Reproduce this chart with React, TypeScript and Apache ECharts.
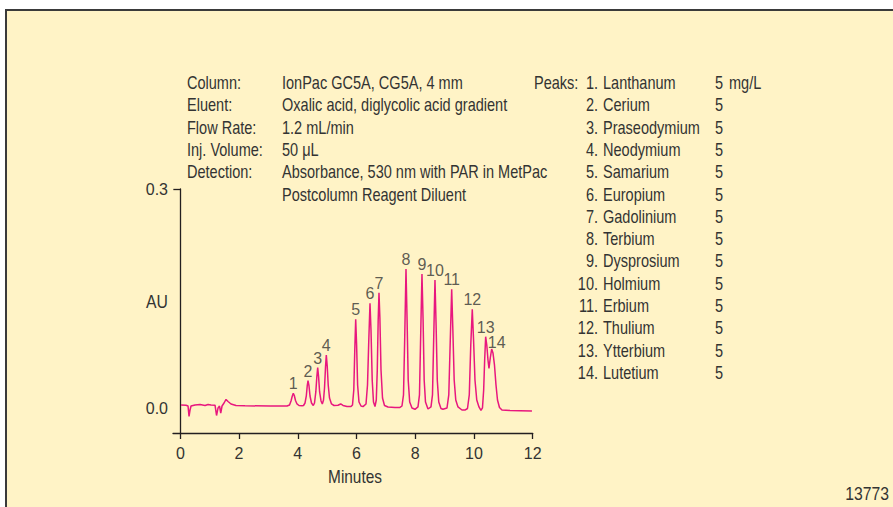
import React, { useEffect, useRef } from "react";
import * as echarts from "echarts";

// Chromatogram trace (minutes, AU)
const traceMinutes = [
  0.024, 0.194, 0.262, 0.296, 0.33, 0.364, 0.501, 0.671, 0.841, 0.943, 1.045, 1.181, 1.233, 1.284, 1.335, 1.376, 1.42, 1.488,
  1.556, 1.624, 1.726, 1.896, 2.203, 3.054, 3.633,
  3.718, 3.769, 3.813, 3.847, 3.881, 3.922, 3.973, 4.041, 4.144,
  4.195, 4.246, 4.29, 4.321, 4.348, 4.382, 4.416, 4.467, 4.528,
  4.569, 4.614, 4.648, 4.678, 4.709, 4.743, 4.791, 4.835,
  4.876, 4.91, 4.944, 4.971, 5.002, 5.036, 5.08, 5.148, 5.233, 5.369, 5.461, 5.54, 5.676, 5.812,
  5.863, 5.907, 5.941, 5.972, 6.003, 6.037, 6.084, 6.153, 6.221,
  6.323, 6.374, 6.418, 6.459, 6.493, 6.534, 6.578, 6.629,
  6.673, 6.707, 6.738, 6.765, 6.796, 6.834, 6.885, 6.953, 7.072, 7.31, 7.48,
  7.548, 7.6, 7.64, 7.685, 7.722, 7.76, 7.811, 7.889, 7.991,
  8.093, 8.144, 8.189, 8.229, 8.267, 8.304, 8.349, 8.434,
  8.536, 8.587, 8.631, 8.672, 8.71, 8.75, 8.801, 8.876, 8.944,
  9.081, 9.142, 9.193, 9.241, 9.281, 9.326, 9.38, 9.455, 9.591, 9.693,
  9.779, 9.84, 9.891, 9.942, 9.986, 10.034, 10.095, 10.17, 10.238,
  10.289, 10.33, 10.364, 10.398, 10.436, 10.477, 10.511,
  10.555, 10.603, 10.647, 10.698, 10.75, 10.801, 10.869, 10.953, 11.226, 11.566, 11.975,
];
const traceAU = [
  0.0048, 0.0045, 0.0034, -0.0109, -0.0021, 0.0034, 0.0048, 0.0055, 0.0041, 0.0055, 0.0048, 0.0045, -0.0096, 0.0007, 0.0034, -0.0062, 0.0034, 0.0075,
  0.0123, 0.0096, 0.0062, 0.0041, 0.0037, 0.0034, 0.0034,
  0.0048, 0.0103, 0.0171, 0.0208, 0.0178, 0.0109, 0.0062, 0.0041, 0.0037,
  0.0041, 0.0075, 0.0171, 0.0308, 0.038, 0.0308, 0.0171, 0.0075, 0.0041,
  0.0075, 0.0226, 0.0431, 0.0558, 0.0431, 0.0226, 0.0103, 0.0062,
  0.0116, 0.028, 0.0567, 0.0731, 0.0581, 0.0321, 0.0144, 0.0062, 0.0041, 0.0044, 0.0062, 0.0041, 0.0027, 0.0027,
  0.0048, 0.0253, 0.08, 0.1219, 0.0868, 0.0321, 0.0089, 0.0034, 0.0025,
  0.0062, 0.0321, 0.0936, 0.1438, 0.1073, 0.039, 0.0089, 0.0027,
  0.0116, 0.0526, 0.121, 0.1583, 0.1237, 0.0526, 0.0144, 0.0041, 0.0021, 0.0014, 0.0014,
  0.0034, 0.0185, 0.0936, 0.1907, 0.121, 0.039, 0.0089, 0.0007, -0.0011,
  0.0021, 0.0185, 0.1073, 0.1838, 0.121, 0.039, 0.0089, -0.0007,
  0.0021, 0.0185, 0.1005, 0.1756, 0.1141, 0.039, 0.0089, 0.0, -0.0011,
  0.0007, 0.0185, 0.0936, 0.1629, 0.1073, 0.039, 0.0116, 0.0021, -0.0021, -0.0021,
  0.0, 0.0185, 0.0868, 0.1356, 0.0936, 0.039, 0.0116, 0.0021, -0.0027,
  0.0007, 0.0253, 0.0663, 0.0981, 0.0868, 0.0663, 0.0549,
  0.069, 0.0813, 0.0759, 0.0595, 0.0321, 0.0116, 0.0014, -0.0021, -0.0027, -0.003, -0.0034,
];

// Peak apexes and their labels
const peakNumbers = ["1", "2", "3", "4", "5", "6", "7", "8", "9", "10", "11", "12", "13", "14"];
const peakMinutes = [3.847, 4.348, 4.678, 4.971, 5.972, 6.459, 6.765, 7.685, 8.229, 8.672, 9.241, 9.942, 10.398, 10.603];
const peakAU = [0.0208, 0.038, 0.0558, 0.0731, 0.1219, 0.1438, 0.1583, 0.1907, 0.1838, 0.1756, 0.1629, 0.1356, 0.0981, 0.0813];

// Axis ticks
const xTickValues = [0, 2, 4, 6, 8, 10, 12];
const yLabelValues = [0, 0.3];
const yTickValues = [0.3];

// Conditions
const conditionLabels = ["Column:", "Eluent:", "Flow Rate:", "Inj. Volume:", "Detection:"];
const conditionValues = [
  "IonPac GC5A, CG5A, 4 mm",
  "Oxalic acid, diglycolic acid gradient",
  "1.2 mL/min",
  "50 \u03bcL",
  "Absorbance, 530 nm with PAR in MetPac",
  "Postcolumn Reagent Diluent",
];

// Peak table
const peakNames = [
  "Lanthanum", "Cerium", "Praseodymium", "Neodymium", "Samarium", "Europium", "Gadolinium",
  "Terbium", "Dysprosium", "Holmium", "Erbium", "Thulium", "Ytterbium", "Lutetium",
];
const peakConcentrations = ["5", "5", "5", "5", "5", "5", "5", "5", "5", "5", "5", "5", "5", "5"];
const concentrationUnit = "mg/L";

const FONT = '"Liberation Sans", Arial, sans-serif';
const TEXT = "#333333";
const FS = 17.5;
const NARROW = 0.83;
const BG = "#FFF3C6";
const TRACE = "#E8177E";
const AXIS = "#231F20";

export default function App() {
  const ref = useRef<HTMLDivElement>(null);

  useEffect(() => {
    if (!ref.current) return;
    const chart = echarts.init(ref.current, null, { renderer: "svg" });

    const txt = (x: number, y: number, text: string, align: string = "left", sx: number = NARROW) => ({
      type: "text",
      x,
      y,
      z: 5,
      scaleX: sx,
      silent: true,
      style: { text, fill: TEXT, font: `${FS}px ${FONT}`, textAlign: align, textVerticalAlign: "middle" },
    });

    const graphics: any[] = [
      {
        type: "rect",
        z: -10,
        shape: { x: 6, y: 10, width: 920, height: 520 },
        style: { fill: BG, stroke: "#3a3a3a", lineWidth: 2 },
        silent: true,
      },
    ];
    const rowStep = 22.3;
    const top = 82.5;
    conditionLabels.forEach((l, i) => graphics.push(txt(187, top + i * rowStep, l)));
    conditionValues.forEach((v, i) => graphics.push(txt(282, top + i * rowStep, v)));
    graphics.push(txt(534, top, "Peaks:"));
    peakNames.forEach((n, i) => {
      graphics.push(txt(598, top + i * rowStep, peakNumbers[i] + ".", "right"));
      graphics.push(txt(603, top + i * rowStep, n));
      graphics.push(txt(715, top + i * rowStep, peakConcentrations[i]));
    });
    graphics.push(txt(729, top, concentrationUnit));
    graphics.push(txt(157, 302.5, "AU", "center", 0.9));
    graphics.push(txt(355, 477, "Minutes", "center", 0.88));
    graphics.push(txt(889, 494, "13773", "right", 0.9));

    const labelData = peakMinutes.map((t, i) => ({
      value: [t, peakAU[i]],
      label: i === 13 ? { offset: [5, 3] } : undefined,
    }));

    chart.setOption({
      animation: false,
      backgroundColor: "#ffffff",
      textStyle: { fontFamily: FONT },
      grid: { left: 173, right: 360.3, top: 189, bottom: 74, outerBoundsMode: "none" },
      xAxis: {
        type: "value",
        min: -0.25,
        max: 12,
        axisLine: { onZero: false, lineStyle: { color: AXIS, width: 1.3 } },
        axisTick: { show: true, customValues: xTickValues, length: 6, lineStyle: { color: AXIS, width: 1.3 } },
        axisLabel: { customValues: xTickValues, color: TEXT, fontSize: 16, fontFamily: FONT, margin: 12 },
        splitLine: { show: false },
      },
      yAxis: {
        type: "value",
        min: -0.0335,
        max: 0.3,
        axisLine: { show: true, onZero: true, lineStyle: { color: AXIS, width: 1.3 } },
        axisTick: { show: true, customValues: yTickValues, length: 7, lineStyle: { color: AXIS, width: 1.3 } },
        axisLabel: {
          customValues: yLabelValues,
          color: TEXT,
          fontSize: 16,
          fontFamily: FONT,
          margin: 5,
          formatter: (v: number) => v.toFixed(1),
        },
        splitLine: { show: false },
      },
      graphic: graphics,
      series: [
        {
          type: "line",
          data: traceMinutes.map((t, i) => [t, traceAU[i]]),
          showSymbol: false,
          silent: true,
          lineStyle: { color: TRACE, width: 1.5 },
          z: 3,
        },
        {
          type: "scatter",
          data: labelData,
          symbolSize: 1,
          silent: true,
          itemStyle: { color: "rgba(0,0,0,0)" },
          label: {
            show: true,
            position: "top",
            distance: 1,
            color: TEXT,
            fontSize: 16,
            fontFamily: FONT,
            formatter: (p: any) => peakNumbers[p.dataIndex],
          },
          z: 4,
        },
      ],
    });

    return () => chart.dispose();
  }, []);

  return (
    <div
      ref={ref}
      style={{ position: "fixed", left: 0, top: 0, width: 893, height: 507 }}
    />
  );
}
